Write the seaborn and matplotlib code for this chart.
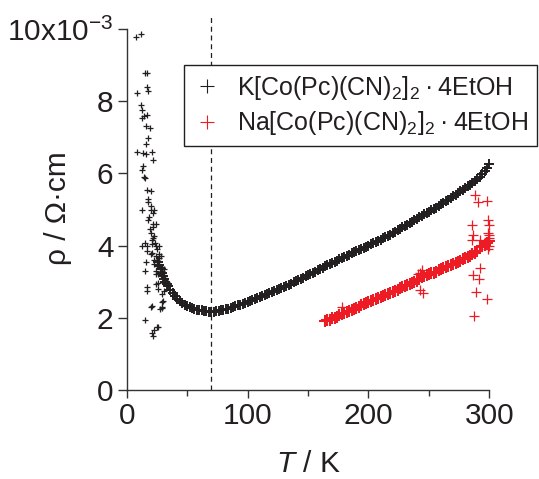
import numpy as np
import pandas as pd
import matplotlib
matplotlib.use('Agg')
import matplotlib.pyplot as plt
import seaborn as sns
from matplotlib.lines import Line2D

# K salt: noisy low-temperature points
k_low_T = [8, 12, 15, 17, 17, 17.6, 8.8, 11.5, 13, 12.5, 14, 17, 16, 19.5, 17.6, 16,
           8.5, 13.5, 16, 20.8, 21.5, 13.6, 13, 14.3, 15.5, 17, 20, 18, 18, 20, 22.7,
           20, 13, 21.5, 18.5, 21.5, 22, 22.7, 13, 17, 24, 26.6, 15.5, 21, 23.8, 17.1,
           19.9, 21.2, 26.8, 28.2, 16.3, 22.6, 25.4, 29.5, 23.9, 15.5, 17.1, 16.5, 23.9,
           26.1, 29.5, 30.9, 29, 27.3, 29.5, 19.9, 15.1, 25.4, 22.6, 20.7, 22, 26.2,
           20.7, 29, 30.3, 25, 26, 27, 28, 29, 30, 31, 32, 33, 27, 28, 30, 31, 26, 24,
           25, 22, 23, 24, 26, 20, 21, 19, 18, 24, 32, 33, 31, 30]
k_low_rho = [9.79, 9.85, 8.79, 8.79, 8.38, 8.29, 8.22, 7.9, 7.75, 7.53, 7.6, 7.62, 7.31,
             7.25, 6.97, 6.8, 6.6, 6.55, 6.53, 6.6, 6.38, 6.2, 6.1, 5.9, 5.87, 5.55, 5.5,
             5.3, 5.2, 5.1, 4.99, 4.99, 4.97, 4.9, 4.79, 4.6, 4.5, 4.27, 4.0, 4.0, 4.0,
             4.0, 4.08, 4.04, 4.08, 3.86, 3.77, 3.8, 3.77, 3.7, 3.55, 3.5, 3.44, 3.4, 3.3,
             3.3, 2.86, 2.75, 2.94, 2.8, 2.66, 2.75, 2.43, 2.25, 2.3, 2.29, 1.94, 1.73,
             1.67, 1.57, 1.48, 1.74, 2.33, 2.26, 2.45, 3.6, 3.5, 3.45, 3.35, 3.3, 3.25,
             3.15, 3.05, 3.0, 3.65, 3.2, 3.0, 3.35, 3.2, 3.7, 3.9, 4.2, 3.6, 3.2, 2.95,
             4.35, 4.15, 4.45, 4.7, 4.6, 2.95, 2.9, 3.1, 3.15]

# K salt: main curve
k_T = [26, 27, 28, 29, 30, 31, 32, 33,
       34, 36, 38, 40, 42, 44, 46, 48, 50, 52, 54, 56, 58, 60, 62, 64, 66, 68, 70, 72,
       74, 76, 78, 80, 82, 84, 86, 88, 90, 92, 94, 96, 98, 100, 102, 104, 106, 108, 110,
       112, 114, 116, 118, 120, 122, 124, 126, 128, 130, 132, 134, 136, 138, 140, 142,
       144, 146, 148, 150, 152, 154, 156, 158, 160, 162, 164, 166, 168, 170, 172, 174,
       176, 178, 180, 182, 184, 186, 188, 190, 192, 194, 196, 198, 200, 202, 204, 206,
       208, 210, 212, 214, 216, 218, 220, 222, 224, 226, 228, 230, 232, 234, 236, 238,
       240, 242, 244, 246, 248, 250, 252, 254, 256, 258, 260, 262, 264, 266, 268, 270,
       272, 274, 276, 278, 280, 282, 284, 286, 288, 290, 292, 294, 296, 298, 300]
k_rho = [3.55, 3.45, 3.35, 3.25, 3.16, 3.08, 3.0, 2.94,
         2.88, 2.78, 2.69, 2.61, 2.53, 2.47, 2.41, 2.36, 2.32, 2.29, 2.26, 2.24, 2.22,
         2.21, 2.20, 2.19, 2.18, 2.17, 2.17, 2.17, 2.18, 2.19, 2.20, 2.22, 2.23, 2.25,
         2.27, 2.29, 2.32, 2.34, 2.36, 2.39, 2.41, 2.44, 2.47, 2.49, 2.52, 2.54, 2.57,
         2.60, 2.63, 2.65, 2.68, 2.71, 2.74, 2.77, 2.79, 2.82, 2.85, 2.88, 2.91, 2.94,
         2.98, 3.01, 3.04, 3.08, 3.11, 3.15, 3.18, 3.21, 3.25, 3.28, 3.32, 3.35, 3.38,
         3.42, 3.45, 3.49, 3.52, 3.55, 3.58, 3.62, 3.65, 3.68, 3.71, 3.74, 3.78, 3.81,
         3.84, 3.87, 3.90, 3.93, 3.96, 3.99, 4.03, 4.06, 4.09, 4.13, 4.16, 4.20, 4.23,
         4.27, 4.30, 4.34, 4.38, 4.42, 4.46, 4.50, 4.54, 4.58, 4.62, 4.66, 4.70, 4.74,
         4.78, 4.82, 4.86, 4.89, 4.93, 4.97, 5.01, 5.05, 5.10, 5.14, 5.18, 5.23, 5.27,
         5.32, 5.36, 5.41, 5.45, 5.50, 5.54, 5.59, 5.64, 5.69, 5.73, 5.79, 5.85, 5.91,
         5.98, 6.06, 6.15, 6.26]

# Na salt: main curve
na_T = [164, 166, 168, 170, 172, 174, 176, 178, 180, 182, 184, 186, 188, 190, 192, 194,
        196, 198, 200, 202, 204, 206, 208, 210, 212, 214, 216, 218, 220, 222, 224, 226,
        228, 230, 232, 234, 236, 238, 240, 242, 244, 246, 248, 250, 252, 254, 256, 258,
        260, 262, 264, 266, 268, 270, 272, 274, 276, 278, 280, 282, 284, 286, 288, 290,
        292, 294, 296, 298, 300]
na_rho = [1.90, 1.93, 1.95, 1.98, 2.00, 2.03, 2.07, 2.10, 2.13, 2.16, 2.19, 2.22, 2.25,
          2.28, 2.31, 2.34, 2.37, 2.40, 2.43, 2.46, 2.49, 2.52, 2.55, 2.58, 2.61, 2.63,
          2.66, 2.69, 2.72, 2.75, 2.78, 2.81, 2.84, 2.87, 2.90, 2.93, 2.96, 2.99, 3.02,
          3.08, 3.12, 3.15, 3.18, 3.20, 3.23, 3.25, 3.28, 3.31, 3.34, 3.37, 3.40, 3.43,
          3.46, 3.49, 3.52, 3.55, 3.58, 3.62, 3.65, 3.69, 3.72, 3.76, 3.80, 3.84, 3.95,
          3.98, 4.02, 4.06, 4.12]

# Na salt: scattered points
na_out_T = [288, 290.6, 297.6, 299, 299.8, 286, 286.6, 286, 292, 299, 299.8, 292.3, 286.3,
            291.8, 289, 298.3, 287.6, 244, 245, 242.6, 245, 178, 241, 243, 300, 300, 299]
na_out_rho = [5.4, 5.2, 5.22, 4.71, 4.57, 4.57, 4.29, 4.14, 4.16, 4.34, 4.2, 3.37, 3.19,
              3.07, 2.72, 2.52, 2.06, 3.32, 3.19, 2.77, 2.68, 2.31, 3.2, 3.25, 4.3, 4.0, 3.9]

T_min = 70
black = '#231f20'
red = '#ed1c24'
label_k = 'K[Co(Pc)(CN)$_2$]$_2$\u2009·\u20094EtOH'
label_na = 'Na[Co(Pc)(CN)$_2$]$_2$\u2009·\u20094EtOH'

df_k_low = pd.DataFrame({'T': k_low_T, 'rho': k_low_rho})
df_k = pd.DataFrame({'T': k_T, 'rho': k_rho})
df_na = pd.DataFrame({'T': na_T, 'rho': na_rho})
df_na_out = pd.DataFrame({'T': na_out_T, 'rho': na_out_rho})

sns.set_theme(style='ticks')
plt.rcParams['font.family'] = ['Liberation Sans', 'DejaVu Sans']
plt.rcParams['mathtext.fontset'] = 'custom'
plt.rcParams['mathtext.rm'] = 'Liberation Sans'
plt.rcParams['mathtext.it'] = 'Liberation Sans:italic'
plt.rcParams['mathtext.bf'] = 'Liberation Sans:bold'

fig = plt.figure(figsize=(5.39, 4.79), dpi=100)
ax = fig.add_axes([0.235, 0.186, 0.673, 0.78])

ax.axvline(T_min, color=black, lw=0.9, ls=(0, (4, 3)), zorder=1)
# dense measured curves drawn with heavier crosses, stray points lighter
sns.scatterplot(data=df_k, x='T', y='rho', marker='+', color=black, s=55,
                linewidth=1.4, ax=ax, clip_on=False, zorder=3)
sns.scatterplot(data=df_k_low, x='T', y='rho', marker='+', color=black, s=24,
                linewidth=0.9, ax=ax, clip_on=False, zorder=3)
sns.scatterplot(data=df_na, x='T', y='rho', marker='+', color=red, s=75,
                linewidth=1.5, ax=ax, clip_on=False, zorder=2)
sns.scatterplot(data=df_na_out, x='T', y='rho', marker='+', color=red, s=45,
                linewidth=0.9, ax=ax, clip_on=False, zorder=2)

ax.set_xlim(0, 300)
ax.set_ylim(0, 10.35)
ax.spines['left'].set_bounds(0, 10)
sns.despine(ax=ax)
for sp in ['left', 'bottom']:
    ax.spines[sp].set_color('#333333')
    ax.spines[sp].set_linewidth(1.0)

ax.set_xticks([0, 100, 200, 300])
ax.set_xticks([50, 150, 250], minor=True)
ax.set_yticks([0, 2, 4, 6, 8, 10])
ax.set_yticklabels(['0', '2', '4', '6', '8', r'10x10$^{\mathregular{-3}}$'])
ax.tick_params(axis='both', which='major', labelsize=21.5, length=6.5, width=1,
               color='#333333', labelcolor='#231f20', pad=3)
ax.tick_params(axis='x', which='minor', length=4, width=1, color='#333333')
ax.tick_params(axis='x', which='major', length=6)

ax.set_xlabel(r'$T$ / K', fontsize=21.5, color='#231f20', labelpad=14)
ax.set_ylabel('ρ / Ω·cm', fontsize=21.5, color='#231f20')
ax.yaxis.set_label_coords(-0.15, 0.487)

handles = [Line2D([], [], ls='none', marker='+', color=black, markersize=10, mew=0.8),
           Line2D([], [], ls='none', marker='+', color=red, markersize=10, mew=0.8)]
leg = ax.legend(handles, [label_k, label_na], loc='upper right',
                bbox_to_anchor=(537 / 539, 1 - 65 / 479), bbox_transform=fig.transFigure,
                fontsize=18, frameon=True, fancybox=False, edgecolor=black, framealpha=1,
                borderaxespad=0, borderpad=0.35, handlelength=1.2, handletextpad=0.6,
                labelspacing=0.3)
leg.get_frame().set_linewidth(1.0)
for t in leg.get_texts():
    t.set_color('#231f20')

fig.savefig('out.png', dpi=100)
